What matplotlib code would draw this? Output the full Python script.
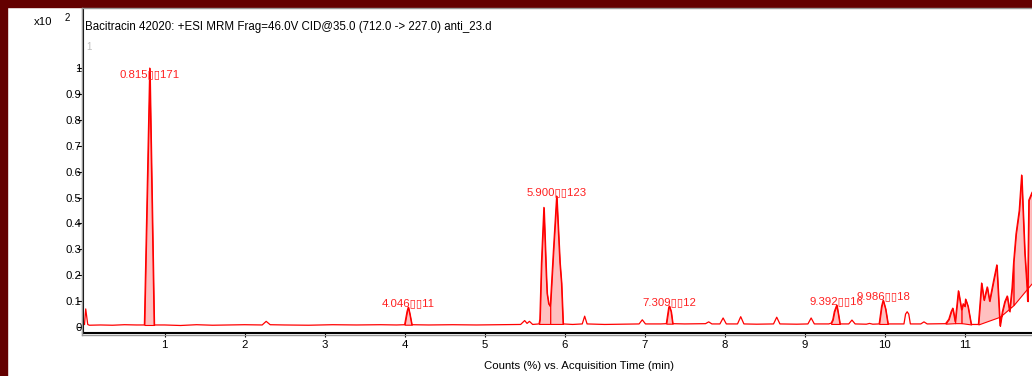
import numpy as np
import matplotlib.pyplot as plt
from matplotlib.patches import Rectangle
from matplotlib.lines import Line2D

plt.rcParams['font.family'] = ['Liberation Sans', 'DejaVu Sans']

TITLE = "Bacitracin 42020: +ESI MRM Frag=46.0V CID@35.0 (712.0 -> 227.0) anti_23.d"
XLABEL = "Counts (%) vs. Acquisition Time (min)"

# chromatogram trace (time in min, counts x10^2)
rt = [0.00, 0.015, 0.04, 0.06, 0.2, 0.35, 0.5, 0.65, 0.748, 0.815, 0.87, 1.0, 1.2, 1.4, 1.6,
      1.8, 2.0, 2.22, 2.27, 2.32, 2.5, 2.8, 3.1, 3.4, 3.7, 3.9, 4.00, 4.03, 4.046, 4.065,
      4.09, 4.3, 4.6, 4.9, 5.2, 5.45, 5.5, 5.53, 5.56, 5.6, 5.68, 5.69, 5.71, 5.74, 5.77,
      5.78, 5.80, 5.82, 5.86, 5.90, 5.94, 5.96, 5.98, 6.1, 6.22, 6.25, 6.28, 6.5, 6.7, 6.93,
      6.97, 7.01, 7.2, 7.27, 7.30, 7.309, 7.33, 7.35, 7.5, 7.76, 7.80, 7.84, 7.94, 7.98,
      8.02, 8.16, 8.2, 8.24, 8.4, 8.61, 8.65, 8.69, 8.9, 9.04, 9.08, 9.12, 9.3, 9.33, 9.35,
      9.37, 9.40, 9.42, 9.44, 9.55, 9.59, 9.63, 9.77, 9.81, 9.85, 9.93, 9.96, 9.98, 10.01,
      10.04, 10.24, 10.26, 10.28, 10.30, 10.32, 10.45, 10.49, 10.53, 10.76, 10.80, 10.83,
      10.85, 10.88, 10.92, 10.96, 10.98, 11.0, 11.01, 11.04, 11.08, 11.17, 11.21, 11.24,
      11.26, 11.28, 11.31, 11.36, 11.40, 11.44, 11.47, 11.50, 11.53, 11.56, 11.59, 11.61,
      11.64, 11.68, 11.71, 11.75, 11.78, 11.785, 11.80, 11.84]
counts = [0.01, 0.07, 0.01, 0.007, 0.008, 0.007, 0.009, 0.008, 0.008, 1.00, 0.008, 0.008,
          0.006, 0.009, 0.007, 0.008, 0.009, 0.008, 0.022, 0.009, 0.008, 0.007, 0.009,
          0.008, 0.009, 0.008, 0.009, 0.06, 0.077, 0.05, 0.009, 0.008, 0.009, 0.008, 0.009,
          0.01, 0.025, 0.014, 0.022, 0.01, 0.012, 0.03, 0.25, 0.462, 0.2, 0.13, 0.09, 0.08,
          0.3, 0.506, 0.25, 0.17, 0.012, 0.01, 0.012, 0.042, 0.012, 0.01, 0.011, 0.012,
          0.028, 0.012, 0.012, 0.013, 0.075, 0.081, 0.06, 0.013, 0.012, 0.013, 0.02, 0.012,
          0.012, 0.035, 0.012, 0.012, 0.04, 0.012, 0.011, 0.012, 0.038, 0.012, 0.011, 0.012,
          0.035, 0.012, 0.012, 0.015, 0.028, 0.06, 0.085, 0.05, 0.012, 0.012, 0.027, 0.012,
          0.011, 0.014, 0.011, 0.012, 0.08, 0.104, 0.07, 0.012, 0.012, 0.05, 0.059, 0.05,
          0.012, 0.012, 0.02, 0.012, 0.013, 0.03, 0.06, 0.073, 0.02, 0.14, 0.066, 0.09, 0.08,
          0.108, 0.08, 0.01, 0.01, 0.17, 0.104, 0.13, 0.155, 0.10, 0.18, 0.24, 0.005, 0.06,
          0.098, 0.12, 0.06, 0.15, 0.25, 0.36, 0.45, 0.587, 0.285, 0.143, 0.10, 0.49, 0.52]

# integrated peaks: start, end, baseline at start, baseline at end
peak_start = [0.748, 4.00, 5.68, 5.82, 7.27, 9.33, 9.93, 10.76, 10.88, 10.96, 11.17, 11.44, 11.61, 11.785]
peak_end = [0.87, 4.09, 5.82, 5.98, 7.35, 9.44, 10.04, 10.88, 10.96, 11.08, 11.44, 11.61, 11.785, 11.84]
base_start = [0.008, 0.009, 0.012, 0.012, 0.013, 0.012, 0.012, 0.013, 0.015, 0.015, 0.01, 0.04, 0.085, 0.15]
base_end = [0.008, 0.009, 0.012, 0.012, 0.013, 0.012, 0.012, 0.015, 0.015, 0.01, 0.04, 0.085, 0.15, 0.17]

# labelled peaks: retention time, height, label
label_rt = [0.815, 4.046, 5.900, 7.309, 9.392, 9.986]
label_h = [1.00, 0.077, 0.506, 0.081, 0.085, 0.104]
label_txt = ["0.815\u25af\u25af171", "4.046\u25af\u25af11", "5.900\u25af\u25af123",
             "7.309\u25af\u25af12", "9.392\u25af\u25af16", "9.986\u25af\u25af18"]

W, H = 1032, 376
fig = plt.figure(figsize=(W / 100, H / 100), dpi=100)
fig.patch.set_facecolor('white')

# dark red frame on top and left
fig.patches.append(Rectangle((0, 1 - 7 / H), 1, 7 / H, transform=fig.transFigure,
                             color='#640000', zorder=0))
fig.patches.append(Rectangle((0, 0), 7 / W, 1, transform=fig.transFigure,
                             color='#640000', zorder=0))

ax = fig.add_axes([83 / W, 1 - 333 / H, (W - 83) / W, (333 - 8) / H])
ax.set_xlim(-0.019, 11.84)
ax.set_ylim(-0.023, 1.232)

rt_a = np.array(rt)
cnt_a = np.array(counts)
for s, e, b0, b1 in zip(peak_start, peak_end, base_start, base_end):
    m = (rt_a >= s - 1e-9) & (rt_a <= e + 1e-9)
    xs = rt_a[m]
    base = np.interp(xs, [s, e], [b0, b1])
    ax.fill_between(xs, cnt_a[m], base, facecolor='#ffc0c0', edgecolor='#ff0000', lw=0.8)

ax.plot(rt, counts, color='#ff0000', lw=0.9)

for x, h, t in zip(label_rt, label_h, label_txt):
    y = min(h + 0.016, 0.975)
    ax.text(x, y, t, color='#ff2020', fontsize=8.2, ha='center', va='center')

ax.set_xticks(range(1, 12))
ax.set_yticks(np.arange(0, 1.01, 0.1))
ax.set_yticklabels(["0"] + [f"{v:.1f}" for v in np.arange(0.1, 0.95, 0.1)] + ["1"])
ax.tick_params(axis='y', length=4, pad=-3, labelsize=8.2, width=0.8)
ax.tick_params(axis='x', length=3, pad=2, labelsize=8.2, width=0.8)

for side in ('top', 'right'):
    ax.spines[side].set_visible(False)
ax.spines['left'].set_linewidth(1.5)
ax.spines['bottom'].set_linewidth(1.5)

# grey panel edges
fig.add_artist(Line2D([82 / W, 1], [1 - 8 / H, 1 - 8 / H], color='#999999', lw=1))
fig.add_artist(Line2D([81.5 / W, 81.5 / W], [1 - 335 / H, 1 - 8 / H], color='#999999', lw=1))
fig.add_artist(Line2D([82 / W, 1], [1 - 335 / H, 1 - 335 / H], color='#999999', lw=1))

fig.text(85 / W, 1 - 27 / H, TITLE, fontsize=8.3, ha='left', va='center')
fig.text(86 / W, 1 - 47 / H, "1", fontsize=7, color='#bbbbbb', ha='left', va='center')
fig.text(52 / W, 1 - 22 / H, "x10", fontsize=8.2, ha='right', va='center')
fig.text(65 / W, 1 - 18 / H, "2", fontsize=7, ha='left', va='center')
fig.text(579 / W, 1 - 366 / H, XLABEL, fontsize=8.2, ha='center', va='center')

fig.savefig("out.png", dpi=100)
